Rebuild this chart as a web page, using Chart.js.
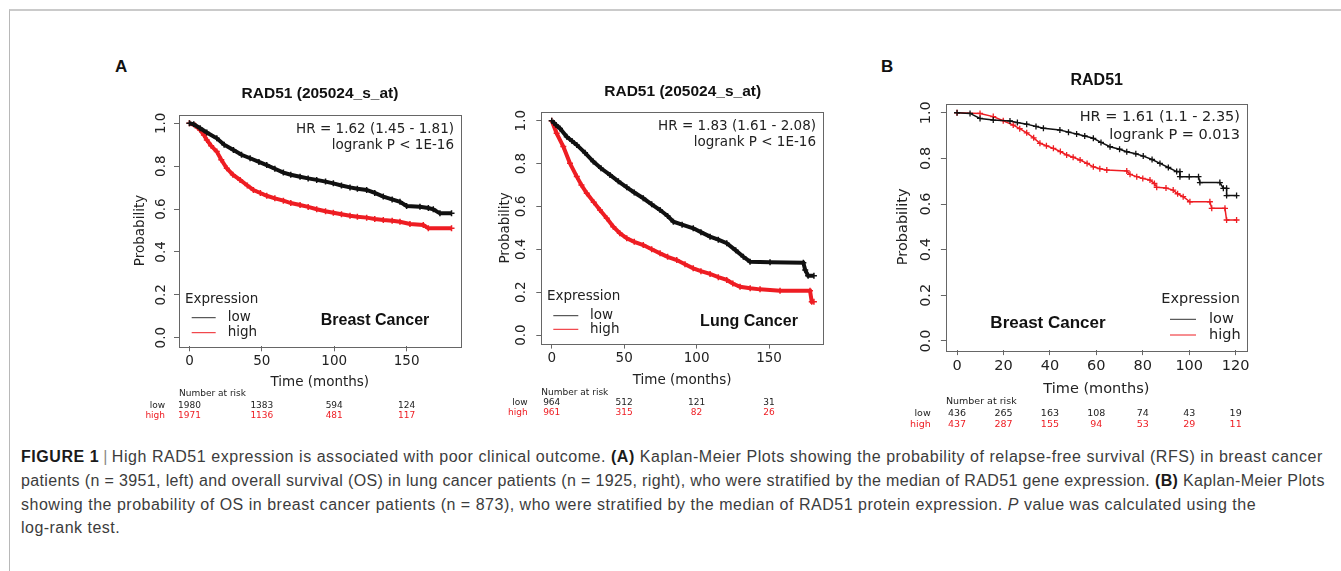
<!DOCTYPE html>
<html>
<head>
<meta charset="utf-8">
<script src="https://cdn.jsdelivr.net/npm/chart.js@4.4.0/dist/chart.umd.min.js"></script>
<style>
  body { margin: 0; background: #fff; width: 1341px; height: 571px; overflow: hidden; position: relative; font-family: "Liberation Sans", Arial, sans-serif; }
  .frame { position: absolute; left: 9px; top: 9px; right: 0; bottom: 0; border-top: 2px solid #cacaca; border-left: 1px solid #b8b8b8; }
  canvas { position: absolute; }
  .tag { position: absolute; font: bold 17px "Liberation Sans", Arial, sans-serif; color: #111; line-height: 17px; }
  .caption { position: absolute; left: 21px; top: 445px; font-size: 16px; color: #3c3c3c; line-height: 23.8px; white-space: nowrap; }
  .caption .ln { display: table; }
  .caption b { color: #1a1a1a; }
  .caption .sep { color: #888; padding: 0 4px; }
</style>
</head>
<body>
<div class="frame"></div>
<div class="tag" style="left:115px; top:58px;">A</div>
<div class="tag" style="left:881px; top:58px;">B</div>

<div class="caption">
  <div class="ln"><b>FIGURE 1</b><span class="sep">|</span>High RAD51 expression is associated with poor clinical outcome. <b>(A)</b> Kaplan-Meier Plots showing the probability of relapse-free survival (RFS) in breast cancer</div>
  <div class="ln">patients (n = 3951, left) and overall survival (OS) in lung cancer patients (n = 1925, right), who were stratified by the median of RAD51 gene expression. <b>(B)</b> Kaplan-Meier Plots</div>
  <div class="ln">showing the probability of OS in breast cancer patients (n = 873), who were stratified by the median of RAD51 protein expression. <i>P</i> value was calculated using the</div>
  <div class="ln">log-rank test.</div>
</div>

<script>
// ---- data ----
const yTicks = [0, 0.2, 0.4, 0.6, 0.8, 1.0];

// A, left: breast cancer RFS by RAD51 gene expression
const xTicksA = [0, 50, 100, 150];
const breastGeneLowT = [0, 3, 7.4, 12, 18.9, 24, 30.4, 36, 41.9, 48, 53.4, 59, 64.9, 70, 76.4, 82, 87.9, 94, 99.4, 105, 110.9, 116, 122.4, 128, 133.9, 140, 145.4, 150, 159.2, 165, 168.4, 173, 181];
const breastGeneLowS = [1.0, 0.995, 0.977, 0.957, 0.93, 0.90, 0.875, 0.853, 0.837, 0.82, 0.805, 0.788, 0.77, 0.76, 0.751, 0.743, 0.736, 0.728, 0.72, 0.71, 0.701, 0.695, 0.689, 0.675, 0.658, 0.645, 0.634, 0.614, 0.611, 0.605, 0.599, 0.58, 0.58];
const breastGeneHighT = [0, 4, 7.4, 10, 12, 15, 18.9, 22, 25.8, 30, 35, 40, 44.2, 49, 53.4, 59, 64.9, 70, 76.4, 82, 87.9, 94, 99.4, 105, 110.9, 116, 122.4, 128, 133.9, 140, 145.4, 152.3, 161.5, 165, 181];
const breastGeneHighS = [1.0, 0.99, 0.969, 0.945, 0.922, 0.895, 0.868, 0.83, 0.79, 0.76, 0.736, 0.71, 0.689, 0.675, 0.662, 0.65, 0.639, 0.628, 0.619, 0.61, 0.599, 0.59, 0.583, 0.576, 0.569, 0.564, 0.56, 0.554, 0.549, 0.545, 0.541, 0.53, 0.526, 0.51, 0.51];
const breastGeneRiskLow = [1980, 1383, 594, 124];
const breastGeneRiskHigh = [1971, 1136, 481, 117];

// A, right: lung cancer OS by RAD51 gene expression
const lungLowT = [0, 3, 5.7, 10.4, 14, 17.3, 23, 28.7, 34, 40.2, 46, 51.8, 57, 63.2, 69, 74.8, 80, 84, 90, 97.7, 103, 109.3, 115, 120.8, 127, 132.3, 136.9, 150.7, 173.7, 175, 177, 181];
const lungLowS = [1.0, 0.98, 0.964, 0.925, 0.905, 0.887, 0.85, 0.809, 0.778, 0.747, 0.717, 0.689, 0.665, 0.638, 0.61, 0.583, 0.555, 0.529, 0.515, 0.498, 0.48, 0.459, 0.445, 0.428, 0.395, 0.365, 0.342, 0.34, 0.337, 0.303, 0.277, 0.277];
const lungHighT = [0, 3.4, 8, 12.6, 17.3, 20.5, 24.2, 29, 33.3, 38, 42.5, 47, 51.8, 57, 63.2, 69, 74.8, 80, 86.3, 92, 97.7, 103, 109.3, 115, 120.8, 125, 130, 137, 143.8, 157.6, 178.3, 179.5, 181];
const lungHighS = [1.0, 0.941, 0.879, 0.801, 0.739, 0.70, 0.661, 0.62, 0.583, 0.545, 0.505, 0.475, 0.451, 0.435, 0.42, 0.40, 0.381, 0.365, 0.35, 0.33, 0.311, 0.298, 0.285, 0.27, 0.257, 0.24, 0.225, 0.218, 0.213, 0.207, 0.207, 0.155, 0.155];
const lungRiskLow = [964, 512, 121, 31];
const lungRiskHigh = [961, 315, 82, 26];

// B: breast cancer OS by RAD51 protein expression
const xTicksB = [0, 20, 40, 60, 80, 100, 120];
const breastProtLowT = [0, 5.6, 9.9, 15.6, 22.8, 26, 30, 34, 37.2, 44.3, 48, 51.5, 55, 58.7, 62, 65.9, 70, 73.1, 77, 80.2, 84, 87.4, 91, 94.6, 96, 96, 100, 104, 104.6, 113.2, 114.7, 116.1, 116.1, 120.4];
const breastProtLowS = [1.0, 0.997, 0.975, 0.968, 0.964, 0.957, 0.95, 0.94, 0.932, 0.924, 0.915, 0.907, 0.898, 0.888, 0.87, 0.851, 0.84, 0.829, 0.82, 0.81, 0.795, 0.778, 0.76, 0.742, 0.742, 0.72, 0.72, 0.72, 0.694, 0.694, 0.669, 0.669, 0.637, 0.637];
const breastProtHighT = [0, 9.9, 15.6, 19.9, 24.2, 27, 30, 33, 35.7, 38.5, 41.5, 44.5, 47.2, 50, 53, 56, 58.7, 61.5, 64.5, 73.1, 74.5, 77.4, 80, 83.1, 85, 86, 90, 93.1, 95, 97.4, 100.3, 108.9, 109.7, 115.4, 116.1, 120.4];
const breastProtHighS = [1.0, 0.997, 0.983, 0.965, 0.946, 0.93, 0.912, 0.89, 0.866, 0.855, 0.844, 0.83, 0.815, 0.805, 0.793, 0.778, 0.763, 0.755, 0.749, 0.745, 0.73, 0.72, 0.712, 0.705, 0.69, 0.673, 0.67, 0.661, 0.645, 0.632, 0.61, 0.61, 0.581, 0.581, 0.53, 0.53];
const breastProtRiskLow = [436, 265, 163, 108, 74, 43, 19];
const breastProtRiskHigh = [437, 287, 155, 94, 53, 29, 11];

// ---- drawing ----
const FONT_R = '"DejaVu Sans", sans-serif';
const FONT_B = '"Liberation Sans", Arial, sans-serif';
const RED = '#ee1d23';
const TEXT = '#222';

function pts(t, s) {
  return t.map((v, i) => ({ x: v, y: s[i] }));
}

function decor(p) {
  return {
    id: 'kmDecor',
    afterDraw(chart) {
      const ctx = chart.ctx;
      const ox = p.canvas.left, oy = p.canvas.top;
      const a = chart.chartArea;
      ctx.save();
      ctx.strokeStyle = '#666';
      ctx.lineWidth = 1;
      ctx.strokeRect(Math.round(a.left) + 0.5, Math.round(a.top) + 0.5, Math.round(a.right - a.left), Math.round(a.bottom - a.top));

      const txt = (s, x, y, font, color, align) => {
        ctx.font = font;
        ctx.fillStyle = color;
        ctx.textAlign = align;
        ctx.textBaseline = 'middle';
        ctx.fillText(s, x - ox, y - oy);
      };
      const fr = p.fs + 'px ' + FONT_R;

      txt(p.title, p.titleX, p.titleY, 'bold ' + p.titleFs + 'px ' + FONT_B, '#111', 'center');
      p.hr.forEach((s, i) => txt(s, p.hrX, p.hrY[i], fr, TEXT, 'right'));
      txt(p.cancer, p.cancerX, p.cancerY, 'bold ' + p.cancerFs + 'px ' + FONT_B, '#111', 'center');

      // legend
      const lg = p.legend;
      txt('Expression', lg.exprX, lg.exprY, fr, TEXT, lg.align);
      ['low', 'high'].forEach((name, i) => {
        ctx.strokeStyle = i ? RED : '#333';
        ctx.lineWidth = 1;
        ctx.beginPath();
        ctx.moveTo(lg.lineX[0] - ox, lg.rowY[i] - oy);
        ctx.lineTo(lg.lineX[1] - ox, lg.rowY[i] - oy);
        ctx.stroke();
        txt(name, lg.textX, lg.rowY[i], fr, TEXT, 'left');
      });

      // number at risk
      const xs = chart.scales.x;
      const rf = p.riskFs + 'px ' + FONT_R;
      txt('Number at risk', p.box.l, p.risk.headY, rf, TEXT, 'left');
      [['low', p.riskLow, TEXT], ['high', p.riskHigh, RED]].forEach(([name, vals, col], i) => {
        txt(name, p.risk.labelX, p.risk.rowY[i], rf, col, 'right');
        vals.forEach((v, j) => {
          ctx.font = rf;
          ctx.fillStyle = col;
          ctx.textAlign = 'center';
          ctx.fillText(String(v), xs.getPixelForValue(p.xTicks[j]), p.risk.rowY[i] - oy);
        });
      });
      ctx.restore();
    }
  };
}

function makePanel(p) {
  const canvas = document.createElement('canvas');
  canvas.width = p.canvas.width;
  canvas.height = p.canvas.height;
  canvas.style.left = p.canvas.left + 'px';
  canvas.style.top = p.canvas.top + 'px';
  canvas.style.width = p.canvas.width + 'px';
  canvas.style.height = p.canvas.height + 'px';
  document.body.appendChild(canvas);

  const lh = p.fs * 1.2;
  const tickLen = 5;
  const mctx = canvas.getContext('2d');
  mctx.font = p.fs + 'px ' + FONT_R;
  const widest = Math.max(...yTicks.map(v => mctx.measureText(v.toFixed(1)).width));
  const yAxisW = p.box.l - (p.probX - lh / 2);
  const xAxisH = p.timeY + lh / 2 - p.box.b;
  const yPad = p.box.l - tickLen - widest / 2 - p.yTickX;
  const xPad = p.xTickY - p.box.b - tickLen - lh / 2;
  const axisFont = { family: FONT_R, size: p.fs };

  const series = (data, color) => ({
    data: data,
    borderColor: color,
    borderWidth: p.lineW,
    pointStyle: 'cross',
    pointRadius: p.pr,
    pointBorderWidth: p.pbw,
    pointBorderColor: color,
    pointBackgroundColor: color,
    tension: 0,
    fill: false
  });

  new Chart(canvas, {
    type: 'line',
    data: {
      datasets: [
        series(pts(p.lowT, p.lowS), '#111'),
        series(pts(p.highT, p.highS), RED)
      ]
    },
    options: {
      responsive: false,
      animation: false,
      events: [],
      layout: {
        padding: {
          left: p.box.l - yAxisW - p.canvas.left,
          top: p.box.t - p.canvas.top,
          right: p.canvas.left + p.canvas.width - p.box.r,
          bottom: p.canvas.top + p.canvas.height - p.box.b - xAxisH
        }
      },
      plugins: { legend: { display: false }, tooltip: { enabled: false } },
      scales: {
        x: {
          type: 'linear',
          min: p.xRange[0],
          max: p.xRange[1],
          afterBuildTicks: s => { s.ticks = p.xTicks.map(v => ({ value: v })); },
          afterFit: s => { s.height = xAxisH; },
          border: { display: false },
          grid: { drawOnChartArea: false, drawTicks: true, tickLength: tickLen, color: '#666' },
          ticks: { font: axisFont, color: TEXT, padding: xPad, maxRotation: 0, autoSkip: false, callback: v => String(v) },
          title: { display: true, text: 'Time (months)', font: axisFont, color: TEXT, padding: 0 }
        },
        y: {
          type: 'linear',
          min: -0.04,
          max: 1.04,
          afterBuildTicks: s => { s.ticks = yTicks.map(v => ({ value: v })); },
          afterFit: s => { s.width = yAxisW; },
          border: { display: false },
          grid: { drawOnChartArea: false, drawTicks: true, tickLength: tickLen, color: '#666' },
          ticks: { font: axisFont, color: TEXT, padding: yPad, minRotation: 90, maxRotation: 90, crossAlign: 'center', autoSkip: false, callback: v => v.toFixed(1) },
          title: { display: true, text: 'Probability', font: axisFont, color: TEXT, padding: 0 }
        }
      }
    },
    plugins: [decor(p)]
  });
}

makePanel({
  canvas: { left: 100, top: 50, width: 370, height: 380 },
  box: { l: 179, t: 114.7, r: 460.5, b: 346.3 },
  xRange: [-7.2, 187.2], xTicks: xTicksA,
  lowT: breastGeneLowT, lowS: breastGeneLowS, highT: breastGeneHighT, highS: breastGeneHighS,
  riskLow: breastGeneRiskLow, riskHigh: breastGeneRiskHigh,
  fs: 13.5, titleFs: 15.5, cancerFs: 16, riskFs: 9,
  title: 'RAD51 (205024_s_at)', titleX: 320, titleY: 94,
  hr: ['HR = 1.62 (1.45 - 1.81)', 'logrank P < 1E-16'], hrX: 454, hrY: [129, 145],
  cancer: 'Breast Cancer', cancerX: 375, cancerY: 321,
  legend: { exprX: 185, exprY: 299, align: 'left', lineX: [191.7, 215.7], textX: 227.7, rowY: [317.7, 332.7] },
  probX: 140, timeY: 382.7, xTickY: 361.7, yTickX: 161.7,
  risk: { headY: 394, rowY: [405.7, 416], labelX: 165 },
  lineW: 4, pr: 3, pbw: 1.5
});

makePanel({
  canvas: { left: 470, top: 50, width: 370, height: 380 },
  box: { l: 541.3, t: 112.1, r: 822.9, b: 343.6 },
  xRange: [-7.2, 187.2], xTicks: xTicksA,
  lowT: lungLowT, lowS: lungLowS, highT: lungHighT, highS: lungHighS,
  riskLow: lungRiskLow, riskHigh: lungRiskHigh,
  fs: 13.5, titleFs: 15.5, cancerFs: 16, riskFs: 9,
  title: 'RAD51 (205024_s_at)', titleX: 682.7, titleY: 91.7,
  hr: ['HR = 1.83 (1.61 - 2.08)', 'logrank P < 1E-16'], hrX: 816, hrY: [126.7, 142.7],
  cancer: 'Lung Cancer', cancerX: 749, cancerY: 321.7,
  legend: { exprX: 547, exprY: 296.7, align: 'left', lineX: [553.3, 578.3], textX: 590, rowY: [315.7, 329.3] },
  probX: 505, timeY: 380, xTickY: 358.3, yTickX: 521.7,
  risk: { headY: 392.3, rowY: [402.7, 412.7], labelX: 527.7 },
  lineW: 4, pr: 3, pbw: 1.5
});

makePanel({
  canvas: { left: 870, top: 50, width: 400, height: 390 },
  box: { l: 945.9, t: 103.6, r: 1246.8, b: 350.1 },
  xRange: [-4.8, 124.8], xTicks: xTicksB,
  lowT: breastProtLowT, lowS: breastProtLowS, highT: breastProtHighT, highS: breastProtHighS,
  riskLow: breastProtRiskLow, riskHigh: breastProtRiskHigh,
  fs: 14.5, titleFs: 16, cancerFs: 17, riskFs: 9.5,
  title: 'RAD51', titleX: 1096.7, titleY: 80.7,
  hr: ['HR = 1.61 (1.1 - 2.35)', 'logrank P = 0.013'], hrX: 1240, hrY: [117.7, 135],
  cancer: 'Breast Cancer', cancerX: 1048, cancerY: 323.3,
  legend: { exprX: 1240, exprY: 299.3, align: 'right', lineX: [1170, 1196], textX: 1209, rowY: [319.3, 335] },
  probX: 903, timeY: 389, xTickY: 366, yTickX: 926.7,
  risk: { headY: 401.7, rowY: [413.3, 425], labelX: 930.7 },
  lineW: 1.5, pr: 3, pbw: 1.3
});

// stretch caption lines to the widths they have in the figure
const captionWidths = [1302, 1304, 1235];
const lines = document.querySelectorAll('.caption .ln');
let spacingSum = 0;
captionWidths.forEach((w, i) => {
  const el = lines[i];
  const extra = (w - el.offsetWidth) / el.textContent.trim().length;
  el.style.letterSpacing = extra + 'px';
  spacingSum += extra;
});
lines[3].style.letterSpacing = (spacingSum / captionWidths.length) + 'px';
</script>
</body>
</html>
